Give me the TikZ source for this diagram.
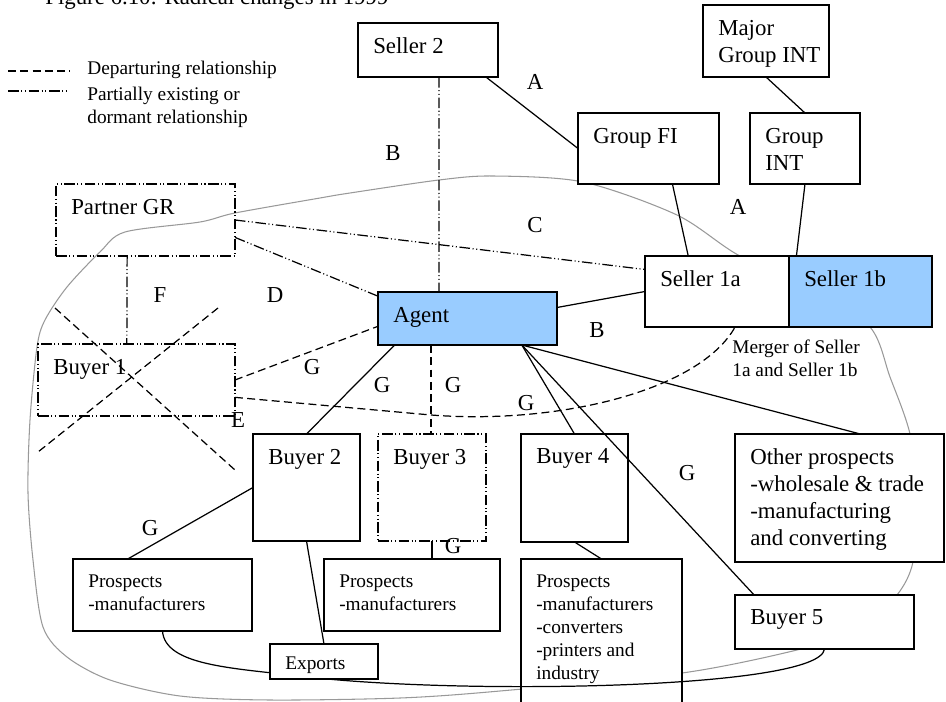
\documentclass[tikz,border=0pt]{standalone}
\usepackage{fontspec}
\setmainfont{Liberation Serif}
\usetikzlibrary{positioning, backgrounds}
\newcommand{\mainsize}{\fontsize{13}{15.4}\selectfont}
\newcommand{\smallsize}{\fontsize{11}{13}\selectfont}
\definecolor{lightblue}{HTML}{99CCFF}
\tikzset{
  box/.style={draw, line width=0.8pt, fill=white, anchor=north west, inner sep=0pt, outer sep=0pt},
  partbox/.style={draw, anchor=north west, inner sep=0pt, outer sep=0pt, partial},
  tl/.style={anchor=north west, align=left, inner sep=0pt, xshift=8.5pt, yshift=-8.3pt, font=\mainsize},
  tls/.style={anchor=north west, align=left, inner sep=0pt, xshift=8.5pt, yshift=-9pt, font=\smallsize},
  lbl/.style={font=\mainsize, inner sep=0pt},
  link/.style={line width=0.7pt},
  departing/.style={line width=0.7pt, dash pattern=on 4.5pt off 2.5pt},
  partial/.style={line width=0.7pt, dash pattern=on 6pt off 1.5pt on 0.6pt off 1.5pt on 0.6pt off 1.5pt},
  boundary/.style={line width=0.6pt, draw=black!40}
}

\begin{document}
\begin{tikzpicture}[x=0.02cm, y=-0.02cm]
  \useasboundingbox (0,0) rectangle (946,702);
  \node[anchor=base west, font=\mainsize, inner sep=0pt] (title) at (45,5) {Figure 6.10: Radical changes in 1999};
  % legend
  \node[anchor=west, font=\smallsize, inner sep=0pt] (legdep) at (87,70) {Departuring relationship};
  \node[anchor=north west, align=left, font=\smallsize, inner sep=0pt] (legpart) at (87,87) {Partially existing or\\dormant relationship};
  \coordinate (legdepA) at (8,71);
  \coordinate (legpartA) at (8,91);
  \draw[departing] (legdepA) -- ++(62,0);
  \draw[partial] (legpartA) -- ++(60,0);
  % actors
  \node[box, minimum width=2.8cm, minimum height=1.08cm, label={[tl]north west:Seller 2}] (seller2) at (358,23) {};
  \node[box, minimum width=2.52cm, minimum height=1.44cm, label={[tl]north west:{Major\\Group INT}}] (majorint) at (703,5) {};
  \node[box, minimum width=2.82cm, minimum height=1.42cm, label={[tl]north west:Group FI}] (groupfi) at (578,113) {};
  \node[box, minimum width=2.2cm, minimum height=1.42cm, label={[tl]north west:{Group\\INT}}] (groupint) at (750,113) {};
  \node[box, minimum width=2.88cm, minimum height=1.42cm, label={[tl]north west:Seller 1a}] (seller1a) at (645,256) {};
  \node[box, fill=lightblue, minimum width=2.86cm, minimum height=1.42cm, right=0pt of seller1a, label={[tl]north west:Seller 1b}] (seller1b) {};
  \node[box, fill=lightblue, minimum width=3.58cm, minimum height=1.06cm, label={[tl]north west:Agent}] (agent) at (378,292) {};
  \node[partbox, minimum width=3.58cm, minimum height=1.44cm, label={[tl]north west:Partner GR}] (partnergr) at (56,184) {};
  \node[partbox, minimum width=3.94cm, minimum height=1.44cm, label={[tl]north west:Buyer 1}] (buyer1) at (38,344) {};
  \node[box, minimum width=2.14cm, minimum height=2.14cm, label={[tl]north west:Buyer 2}] (buyer2) at (253,434) {};
  \node[partbox, minimum width=2.16cm, minimum height=2.14cm, label={[tl]north west:Buyer 3}] (buyer3) at (378,434) {};
  \node[box, minimum width=2.14cm, minimum height=2.16cm, label={[tl]north west:Buyer 4}] (buyer4) at (521,434) {};
  \node[box, minimum width=4.18cm, minimum height=2.56cm, label={[tl]north west:{Other prospects\\-wholesale \& trade\\-manufacturing\\and converting}}] (otherp) at (735,434) {};
  \node[box, minimum width=3.58cm, minimum height=1.08cm, label={[tl]north west:Buyer 5}] (buyer5) at (735,595) {};
  \node[box, minimum width=3.58cm, minimum height=1.44cm, label={[tls]north west:{Prospects\\-manufacturers}}] (prospl) at (73,559) {};
  \node[box, minimum width=3.52cm, minimum height=1.44cm, label={[tls]north west:{Prospects\\-manufacturers}}] (prospm) at (324,559) {};
  \node[box, minimum width=3.22cm, minimum height=3.1cm, label={[tls]north west:{Prospects\\-manufacturers\\-converters\\-printers and\\industry}}] (prospr) at (521,559) {};
  \node[anchor=north west, align=left, font=\smallsize, inner sep=0pt] (merger) at (732,340) {Merger of Seller\\1a and Seller 1b};
  % network boundary
  \begin{scope}[on background layer]
    \draw[boundary] plot[smooth cycle] coordinates {(125,232) (100,252) (67,287) (45,320) (37,347) (30,420)
      (28,493) (33,560) (43,627) (67,657) (110,680) (180,696) (270,700) (400,698) (500,691) (682,673)
      (797,650) (860,630) (897,595) (913,562) (918,500) (910,434) (890,377) (870,327) (810,283) (740,256)
      (677,215) (583,182) (493,176) (439,180) (350,193) (320,198) (235,213) (200,222)};
  \end{scope}
  \draw[link] (prospl.south) .. controls (165,665) and (230,668) .. (300,676)
    .. controls (450,695) and (820,690) .. (buyer5.south);
  \node[box, minimum width=2.16cm, minimum height=0.7cm, label={[tls, yshift=2pt]north west:Exports}] (exports) at (270,644) {};
  % relationships
  \draw[link] (seller2.-25) -- (groupfi.west);
  \draw[link] (majorint.south) -- (groupint.north);
  \draw[link] (groupfi.-56) -- (seller1a.129);
  \draw[link] (groupint.south) -- (seller1b.151);
  \draw[partial] (seller2.-68) -- (agent.137);
  \draw[partial] (partnergr.east) -- (seller1a.163);
  \draw[partial] (partnergr.-11) -- (agent.166);
  \draw[partial] (partnergr.-117) -- (buyer1.105);
  \draw[departing] (buyer1.east) -- (agent.-175);
  \coordinate (meet) at (431,415);
  \draw[departing] (buyer1.-10) -- (meet) .. controls (560,425) and (700,390) .. (seller1a.-63);
  \draw[departing] (agent.-144) -- (agent.-144 |- buyer3.north);
  \draw[link] (agent.7) -- (seller1a.west);
  \draw[link] (agent.-160) -- (buyer2.north);
  \draw[link] (agent.-26) -- (buyer4.north);
  \draw[link] (agent.-26) -- (buyer5.159);
  \draw[link] (agent.-26) -- (otherp.72);
  \draw[link] (buyer2.west) -- (prospl.134);
  \draw[link] (buyer2.south) -- (exports.north);
  \draw[link] (buyer3.south) -- (buyer3.south |- prospm.north);
  \draw[link] (buyer4.south) -- (prospr.north);
  % crossed out buyer
  \draw[departing] (55,308) -- (235,470);
  \draw[departing] (218,308) -- (38,452);
  % relationship letters
  \node[lbl] (la1) at (535,82) {A};
  \node[lbl] (lb1) at (393,153) {B};
  \node[lbl] (la2) at (738,207) {A};
  \node[lbl] (lc) at (535,225) {C};
  \node[lbl] (lf) at (160,295) {F};
  \node[lbl] (ld) at (275,295) {D};
  \node[lbl] (lb2) at (597,330) {B};
  \node[lbl] (lg1) at (312,367) {G};
  \node[lbl] (lg2) at (382,385) {G};
  \node[lbl] (lg3) at (453,385) {G};
  \node[lbl] (lg4) at (526,403) {G};
  \node[lbl] (le) at (238,420) {E};
  \node[lbl] (lg5) at (687,473) {G};
  \node[lbl] (lg6) at (150,528) {G};
  \node[lbl] (lg7) at (453,546) {G};
\end{tikzpicture}
\end{document}
